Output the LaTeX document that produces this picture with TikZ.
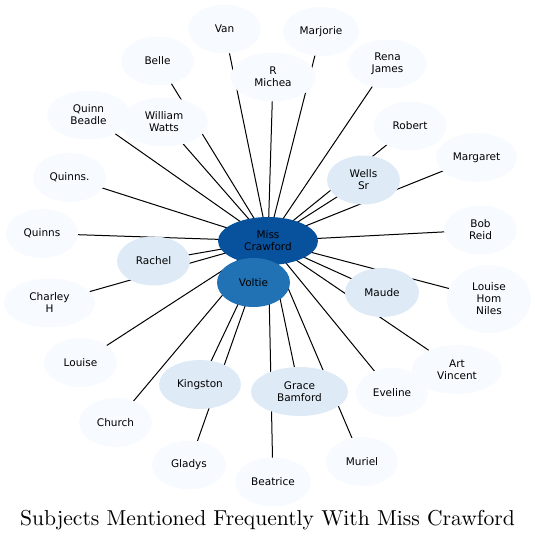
\documentclass[tikz,border=0pt]{standalone}
\usepackage{fontspec}
\newfontfamily\labelfont{DejaVu Sans}
\newfontfamily\titlefont{lmroman10-regular}[Extension=.otf]
\usetikzlibrary{shapes.geometric, backgrounds}
\definecolor{hubblue}{HTML}{08519C}
\definecolor{nearblue}{HTML}{2171B5}
\definecolor{closeblue}{HTML}{DEEBF7}
\definecolor{farblue}{HTML}{F7FBFF}

\begin{document}
\begin{tikzpicture}[
  x=1pt, y=-1pt,
  person/.style={ellipse, inner sep=0pt, minimum width=73pt, minimum height=49pt,
                 align=center, font=\labelfont\fontsize{10.5}{12}\selectfont},
  hub/.style={person, fill=hubblue, minimum width=100pt, minimum height=48pt},
  near/.style={person, fill=nearblue},
  close/.style={person, fill=closeblue},
  far/.style={person, fill=farblue},
  link/.style={line width=1pt}
]
  \useasboundingbox (0,0) rectangle (535,542);

  % Outer ring
  \node[far] (van) at (224.5,29) {Van};
  \node[far, minimum width=76pt] (marjorie) at (321,31.5) {Marjorie};
  \node[far] (belle) at (157.5,61) {Belle};
  \node[far, minimum width=85pt] (rmichea) at (273,77) {R\\Michea};
  \node[far, minimum width=79pt] (rena) at (387.5,64) {Rena\\James};
  \node[far, minimum width=83pt] (quinnbeadle) at (88.5,115) {Quinn\\Beadle};
  \node[far, minimum width=88pt] (watts) at (164,122) {William\\Watts};
  \node[far] (robert) at (410,126) {Robert};
  \node[far, minimum width=81pt] (margaret) at (476.5,157.5) {Margaret};
  \node[far] (quinnsdot) at (69.5,177.5) {Quinns.};
  \node[far, minimum width=72pt] (quinns) at (42,233.5) {Quinns};
  \node[far] (bobreid) at (480.5,230) {Bob\\Reid};
  \node[far, minimum width=84pt, minimum height=68pt] (lhn) at (489,299) {Louise\\Hom\\Niles};
  \node[far, minimum width=91pt] (charley) at (49.5,303) {Charley\\H};
  \node[far] (louise) at (80.5,362.5) {Louise};
  \node[far, minimum width=90pt] (art) at (457,369.5) {Art\\Vincent};
  \node[far, minimum width=72pt] (eveline) at (392,392.5) {Eveline};
  \node[far] (church) at (115.5,422.5) {Church};
  \node[far, minimum width=74pt] (gladys) at (189,465) {Gladys};
  \node[far, minimum width=72pt] (muriel) at (362,461.5) {Muriel};
  \node[far, minimum width=76pt] (beatrice) at (273,482) {Beatrice};

  % Inner ring
  \node[close] (wells) at (363.5,180) {Wells\\Sr};
  \node[close] (rachel) at (153.5,261) {Rachel};
  \node[close, minimum width=74pt] (maude) at (382,292.5) {Maude};
  \node[close, minimum width=82pt] (kingston) at (200,384.5) {Kingston};
  \node[close, minimum width=97pt] (grace) at (299.5,391.5) {Grace\\Bamford};

  % Centre
  \node[hub] (crawford) at (268,241) {Miss\\Crawford};
  \node[near] (voltie) at (253.5,282.5) {Voltie};

  % Edges
  \begin{scope}[on background layer]
    \foreach \n in {van, marjorie, belle, rmichea, rena, quinnbeadle, watts, robert,
                    margaret, quinnsdot, quinns, bobreid, lhn, charley, louise, art,
                    eveline, church, gladys, muriel, beatrice, wells, rachel, maude,
                    kingston, grace, voltie}
      \draw[link] (crawford.center) -- (\n.center);
  \end{scope}

  % Title
  \node[font=\titlefont\fontsize{21.6}{26}\selectfont] (title) at (267.5,520.5)
    {Subjects Mentioned Frequently With Miss Crawford};
\end{tikzpicture}
\end{document}
